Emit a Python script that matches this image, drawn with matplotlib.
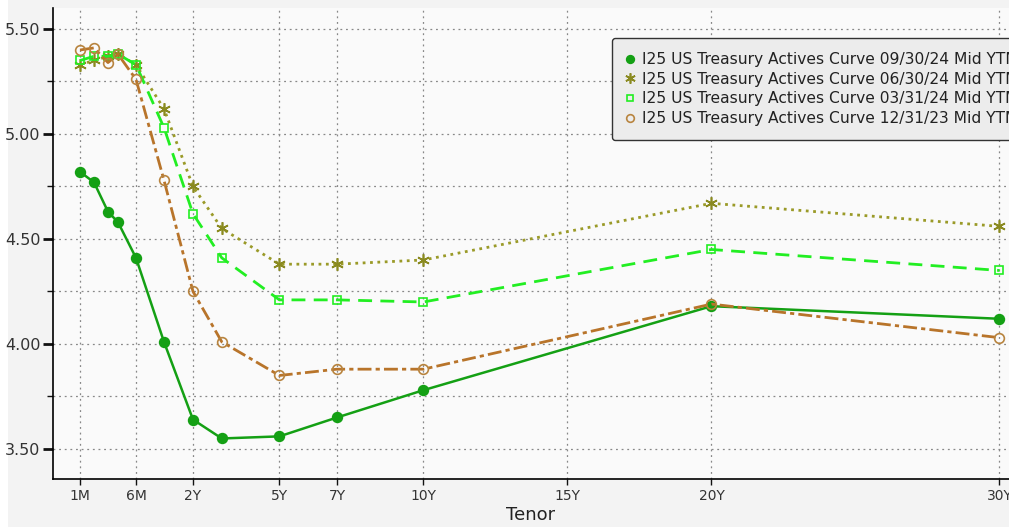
import matplotlib
matplotlib.use("Agg")
import matplotlib.pyplot as plt
from matplotlib.lines import Line2D
import numpy as np

# tenors in years
tenors = [1 / 12, 2 / 12, 3 / 12, 4 / 12, 0.5, 1, 2, 3, 5, 7, 10, 20, 30]

yld_093024 = [4.82, 4.77, 4.63, 4.58, 4.41, 4.01, 3.64, 3.55, 3.56, 3.65, 3.78, 4.18, 4.12]
yld_063024 = [5.33, 5.35, 5.37, 5.38, 5.33, 5.12, 4.75, 4.55, 4.38, 4.38, 4.40, 4.67, 4.56]
yld_033124 = [5.35, 5.37, 5.37, 5.38, 5.33, 5.03, 4.62, 4.41, 4.21, 4.21, 4.20, 4.45, 4.35]
yld_123123 = [5.40, 5.41, 5.34, 5.38, 5.26, 4.78, 4.25, 4.01, 3.85, 3.88, 3.88, 4.19, 4.03]

labels = [
    "I25 US Treasury Actives Curve 09/30/24 Mid YTM",
    "I25 US Treasury Actives Curve 06/30/24 Mid YTM",
    "I25 US Treasury Actives Curve 03/31/24 Mid YTM",
    "I25 US Treasury Actives Curve 12/31/23 Mid YTM",
]

tick_tenors = [1 / 12, 0.5, 2, 5, 7, 10, 15, 20, 30]
tick_labels = ["1M", "6M", "2Y", "5Y", "7Y", "10Y", "15Y", "20Y", "30Y"]

# Bloomberg-style tenor axis: stretched short end, linear from 2Y
KNOT_T = np.array([-1, 1 / 12, 2 / 12, 3 / 12, 4 / 12, 0.5, 1, 2, 100])
KNOT_P = np.array([-8.25, -1.924, -1.4375, -0.951, -0.604, 0.021, 0.993, 2, 100])


def fwd(t):
    return np.interp(t, KNOT_T, KNOT_P)


def inv(p):
    return np.interp(p, KNOT_P, KNOT_T)


fig = plt.figure(figsize=(10.09, 5.27), dpi=100, facecolor="#f3f3f3")
# white strip on the far left like the screenshot
fig.patches.append(plt.Rectangle((0, 0), 8 / 1009, 1, transform=fig.transFigure,
                                 facecolor="white", edgecolor="none", zorder=-1))
ax = fig.add_axes([53 / 1009, 48 / 527, 956 / 1009, 471 / 527])
ax.set_facecolor("#fafafa")
ax.set_xscale("function", functions=(fwd, inv))

styles = [
    dict(color="#14a014", ls="-", lw=1.8, marker="o", ms=7, mfc="#14a014", mec="#14a014"),
    dict(color="#9a9a28", ls=":", lw=2.0, marker=(6, 2, 0), ms=9, mfc="#8a8a20", mec="#8a8a20"),
    dict(color="#22ee22", ls=(0, (5, 3)), lw=2.0, marker="s", ms=6, mfc="none", mec="#22ee22"),
    dict(color="#b8742a", ls=(0, (5, 1.5, 1.5, 1.5)), lw=2.0, marker="o", ms=7, mfc="none", mec="#b8843f"),
]

for ys, st in zip([yld_093024, yld_063024, yld_033124, yld_123123], styles):
    ax.plot(tenors, ys, mew=1.2, **st)

ax.set_xlim(-0.077, 30.33)
ax.set_ylim(3.357, 5.60)

ax.set_xticks(tick_tenors)
ax.set_xticklabels(tick_labels)
ax.xaxis.set_minor_locator(matplotlib.ticker.NullLocator())
ax.set_yticks([3.5, 4.0, 4.5, 5.0, 5.5])
ax.set_yticklabels(["3.50", "4.00", "4.50", "5.00", "5.50"])
ax.set_yticks([3.75, 4.25, 4.75, 5.25], minor=True)

ax.grid(True, which="both", color="#888888", ls=(0, (1.5, 3)), lw=0.9)
ax.tick_params(axis="y", which="major", length=7, width=2, colors="#111111", labelcolor="#333333", labelsize=11.5, pad=2)
ax.tick_params(axis="y", which="minor", length=4, width=1, colors="#111111")
ax.tick_params(axis="x", length=4, width=1, colors="#111111", labelcolor="#333333", labelsize=10)

for s in ["top", "right"]:
    ax.spines[s].set_visible(False)
ax.spines["left"].set_linewidth(1.2)
ax.spines["bottom"].set_linewidth(1.2)

ax.set_xlabel("Tenor", fontsize=13, color="#222222", labelpad=2)

handles = [
    Line2D([], [], ls="none", marker=st["marker"], ms=st["ms"] - 1.5, mfc=st["mfc"], mec=st["mec"], mew=1.2)
    for st in styles
]
leg = ax.legend(handles, labels, loc="upper left", bbox_to_anchor=(0.585, 0.936),
                fontsize=11.2, frameon=True, facecolor="#ececec", edgecolor="#333333",
                framealpha=1, handlelength=0.5, handletextpad=0.5, labelspacing=0.3,
                borderpad=0.9, fancybox=True, borderaxespad=0)
leg.get_frame().set_linewidth(1.0)
for t in leg.get_texts():
    t.set_color("#222222")

fig.savefig("out.png", dpi=100, facecolor=fig.get_facecolor())
